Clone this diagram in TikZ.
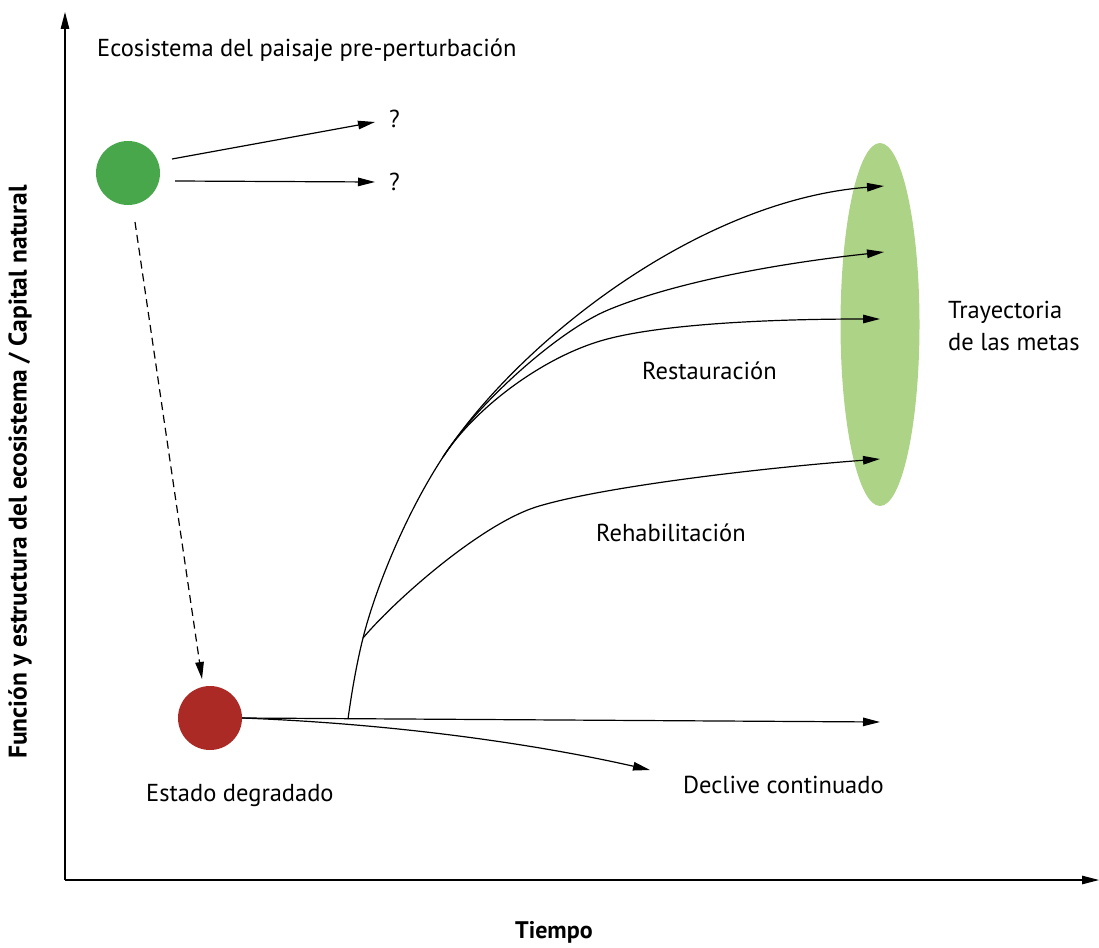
\documentclass[tikz,border=0pt]{standalone}
\usepackage{fontspec}
\setmainfont{PT Sans}
\usetikzlibrary{arrows.meta,shapes.geometric}
\definecolor{pregreen}{RGB}{72,167,74}
\definecolor{degred}{RGB}{172,42,38}
\definecolor{goalgreen}{RGB}{172,211,134}
\begin{document}
\begin{tikzpicture}[x=1pt,y=-1pt,
  conn/.style={line width=1.2pt},
  arr/.style={conn, -{Triangle[length=17pt,width=8.5pt]}},
  dasharr/.style={arr, dash pattern=on 8pt off 5pt},
  lbl/.style={font=\fontsize{24.5}{29}\selectfont, inner sep=0pt},
  axlbl/.style={font=\fontsize{24.5}{29}\selectfont\bfseries, inner sep=0pt},
  state/.style={circle, minimum size=64pt, inner sep=0pt},
]
\useasboundingbox (0,0) rectangle (1099,947);

% axes
\coordinate (O) at (65,880);
\coordinate (ytop) at (65,12);
\coordinate (xend) at (1099,880);
\draw[arr] (O) -- (ytop);
\draw[arr] (O) -- (xend);
\node[axlbl, rotate=90, font=\fontsize{25.5}{30}\selectfont\bfseries] (ylab) at (20,472) {Función y estructura del ecosistema / Capital natural};
\node[axlbl, anchor=base west, font=\fontsize{24}{29}\selectfont\bfseries] (xlab) at (515,938) {Tiempo};

% pre-disturbance state and its unknown futures
\node[lbl, anchor=base west] (title) at (97,57) {Ecosistema del paisaje pre-perturbación};
\node[state, fill=pregreen] (pre) at (128,173) {};
\coordinate (pa) at (172,159);
\coordinate (pb) at (175,181);
\coordinate (qa) at (375,122);
\coordinate (qb) at (375,182);
\draw[arr] (pa) -- (qa);
\draw[arr] (pb) -- (qb);
\node[lbl, anchor=base west] (qla) at (389,128) {?};
\node[lbl, anchor=base west] (qlb) at (389,190) {?};

% degradation
\node[state, fill=degred] (deg) at (210,718) {};
\coordinate (da) at (135,222);
\coordinate (db) at (202,679);
\draw[dasharr] (da) -- (db);
\node[lbl, anchor=base west] (degl) at (146,801) {Estado degradado};

% goal trajectory
\node[ellipse, fill=goalgreen, minimum width=79pt, minimum height=363pt, inner sep=0pt] (goal) at (880,324.5) {};
\node[lbl, anchor=base west] (goall1) at (948,318) {Trayectoria};
\node[lbl, anchor=base west] (goall2) at (948,350) {de las metas};

% branch points and arrow ends
\coordinate (S) at (348,719);
\coordinate (B4) at (363,638);
\coordinate (B) at (443,457);
\coordinate (M2) at (608,310);
\coordinate (M3) at (597,342);
\coordinate (M4) at (536,507);
\coordinate (E1) at (884,186);
\coordinate (E2) at (884,252);
\coordinate (E3) at (880,319);
\coordinate (E4) at (880,459);
\coordinate (E5) at (880,722);
\coordinate (E6) at (650,770);

% no intervention
\draw[arr] (deg.east) -- (E5);
\draw[arr] (deg.east) .. controls (400,724) and (540,745) .. (E6);
\node[lbl, anchor=base west] (decl) at (683,793) {Declive continuado};

% recovery trajectories
\draw[arr] (S) .. controls (352,690) and (357,662) .. (B4)
               .. controls (375,590) and (405,515) .. (B)
               .. controls (520,340) and (700,200) .. (E1);
\draw[arr] (B) .. controls (480,400) and (560,330) .. (M2)
               .. controls (680,280) and (790,262) .. (E2);
\draw[arr] (B) .. controls (475,408) and (540,360) .. (M3)
               .. controls (650,325) and (760,319) .. (E3);
\draw[arr] (B4) .. controls (395,600) and (480,525) .. (M4)
                .. controls (600,487) and (760,468) .. (E4);
\node[lbl, anchor=base west] (rest) at (642,379) {Restauración};
\node[lbl, anchor=base west] (rehab) at (596,541) {Rehabilitación};
\end{tikzpicture}
\end{document}
